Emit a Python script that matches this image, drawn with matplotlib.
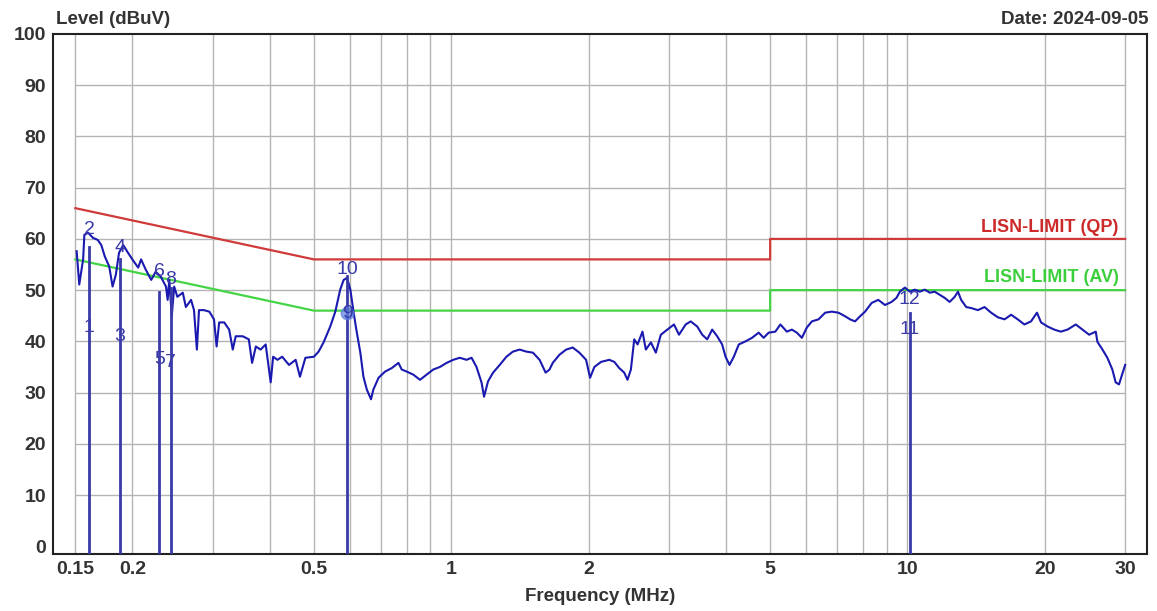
"""EMI conducted emission scan: level vs frequency with LISN limits and markers."""
import matplotlib
matplotlib.use("Agg")
import matplotlib.pyplot as plt
from matplotlib.ticker import FixedLocator, NullLocator

plt.rcParams["font.family"] = ["Liberation Sans", "DejaVu Sans"]

# ── colours ──────────────────────────────────────────────────────────────
C_TRACE = "#1a1ab0"
C_MARK = "#3a3aa8"
C_QP = "#d03a3a"
C_AV = "#45d445"
C_GRID = "#b4b4b4"
C_TEXT = "#333333"

# ── data ─────────────────────────────────────────────────────────────────
freq_mhz = [
    0.151, 0.153, 0.156, 0.157, 0.160, 0.164, 0.168, 0.171, 0.174, 0.178,
    0.181, 0.184, 0.187, 0.191, 0.195, 0.200, 0.206, 0.209, 0.214, 0.220,
    0.225, 0.231, 0.237, 0.239, 0.241, 0.244, 0.247, 0.251, 0.258, 0.262,
    0.269, 0.273, 0.277, 0.280, 0.287, 0.295, 0.302, 0.306, 0.310, 0.318,
    0.326, 0.332, 0.337, 0.349, 0.360, 0.366, 0.373, 0.382, 0.392, 0.402,
    0.407, 0.416, 0.426, 0.441, 0.456, 0.466,
    0.479, 0.500, 0.512, 0.525, 0.543, 0.557, 0.571, 0.581, 0.591, 0.601,
    0.611, 0.621, 0.632, 0.642, 0.653, 0.667, 0.675, 0.693, 0.716, 0.741,
    0.766, 0.779, 0.799, 0.826, 0.854, 0.883, 0.913, 0.944, 0.977, 1.010,
    1.044, 1.080, 1.108, 1.136, 1.165, 1.180, 1.204, 1.235, 1.277, 1.321,
    1.365, 1.412, 1.461, 1.510, 1.562, 1.610, 1.642,
    1.669, 1.727, 1.786, 1.846, 1.909, 1.975, 2.015, 2.059, 2.130, 2.220,
    2.277, 2.334, 2.394, 2.434, 2.476, 2.518, 2.561, 2.625, 2.670, 2.739,
    2.808, 2.880, 2.976, 3.078, 3.156, 3.265, 3.348, 3.461, 3.549, 3.639,
    3.732, 3.827, 3.924, 3.992, 4.073, 4.162, 4.268, 4.414, 4.563, 4.719,
    4.839, 4.962, 5.132, 5.265, 5.439,
    5.580, 5.721, 5.868, 6.017, 6.171, 6.382, 6.601, 6.824, 7.057, 7.299,
    7.484, 7.675, 7.871, 8.072, 8.344, 8.629, 8.926, 9.227, 9.461, 9.624,
    9.869, 10.12, 10.38, 10.64, 10.91, 11.19, 11.47, 11.76, 12.06, 12.37,
    12.69, 12.90, 13.11, 13.45, 13.79, 14.27, 14.75, 15.25, 15.78, 16.32,
    16.87, 17.44, 18.04,
    18.65, 19.22, 19.62, 20.28, 20.97, 21.68, 22.43, 23.38, 24.18, 25.01,
    25.86, 26.08, 26.75, 27.42, 28.12, 28.59, 29.08, 29.43, 30.0,
]
level_dbuv = [
    57.6, 51.1, 56.0, 60.8, 61.2, 60.2, 59.8, 58.8, 56.6, 54.6,
    50.7, 53.0, 57.3, 58.8, 57.5, 56.0, 54.4, 56.0, 54.0, 52.0,
    53.6, 52.6, 50.7, 48.1, 52.0, 44.9, 50.7, 48.7, 49.5, 46.7,
    48.1, 46.1, 38.4, 46.1, 46.1, 45.8, 44.3, 39.0, 43.7, 43.7,
    42.3, 38.4, 41.0, 41.0, 40.4, 35.8, 39.0, 38.4, 39.4, 32.0,
    37.0, 36.4, 37.0, 35.4, 36.4, 33.1,
    36.8, 37.0, 38.0, 39.8, 42.9, 45.8, 50.1, 52.0, 52.4, 50.1,
    45.6, 41.7, 37.8, 33.1, 30.6, 28.7, 30.6, 32.9, 34.1, 34.8,
    35.8, 34.5, 34.1, 33.5, 32.5, 33.5, 34.5, 35.0, 35.8, 36.4,
    36.8, 36.4, 36.8, 35.0, 32.0, 29.2, 32.2, 33.9, 35.4, 37.0,
    38.0, 38.4, 38.0, 37.8, 36.4, 33.9, 34.5,
    35.8, 37.4, 38.4, 38.8, 37.8, 36.4, 32.9, 35.0, 36.0, 36.4,
    36.0, 34.8, 33.9, 32.5, 34.5, 40.4, 39.4, 41.9, 38.4, 39.8,
    37.8, 41.3, 42.3, 43.3, 41.3, 43.3, 43.9, 42.9, 41.3, 40.4,
    42.3, 41.0, 39.4, 37.0, 35.4, 37.0, 39.4, 40.0, 40.7, 41.7,
    40.7, 41.7, 41.9, 43.3, 41.9,
    42.3, 41.7, 40.7, 42.7, 43.9, 44.3, 45.6, 45.8, 45.6, 44.9,
    44.3, 43.9, 44.9, 45.8, 47.5, 48.1, 47.1, 47.7, 48.5, 49.7,
    50.5, 49.7, 50.1, 49.7, 50.1, 49.5, 49.7, 49.1, 48.5, 47.7,
    48.7, 49.7, 48.1, 46.7, 46.5, 46.1, 46.7, 45.6, 44.7, 44.3,
    45.2, 44.3, 43.3,
    43.9, 45.6, 43.7, 42.9, 42.3, 41.9, 42.3, 43.3, 42.3, 41.3,
    41.9, 39.9, 38.4, 36.8, 34.5, 32.0, 31.6, 33.1, 35.4,
]

# LISN limits (EN 55032 class B style), breakpoints in MHz
qp_freq = [0.15, 0.5, 5.0, 5.0, 30.0]
qp_level = [66, 56, 56, 60, 60]
av_freq = [0.15, 0.5, 5.0, 5.0, 30.0]
av_level = [56, 46, 46, 50, 50]

# markers: odd numbers = AV readings, even numbers = QP readings
marker_freq = [0.161, 0.188, 0.229, 0.243, 0.591, 10.12]
marker_top = [58.5, 56.0, 49.7, 50.5, 52.7, 45.5]
marker_qp = [61.8, 58.3, 53.6, 52.0, 54.0, 48.1]
marker_av = [42.7, 41.0, 36.4, 35.8, 45.5, 42.3]

x_ticks = [0.15, 0.2, 0.5, 1, 2, 5, 10, 20, 30]
x_ticklabels = ["0.15", "0.2", "0.5", "1", "2", "5", "10", "20", "30"]
x_grid = [0.15, 0.2, 0.3, 0.4, 0.5, 0.6, 0.7, 0.8, 0.9,
          1, 2, 3, 4, 5, 6, 7, 8, 9, 10, 20, 30]
y_ticks = list(range(0, 101, 10))

# ── figure ───────────────────────────────────────────────────────────────
fig = plt.figure(figsize=(11.57, 6.11), dpi=100, facecolor="white")
ax = fig.add_axes([0.0458, 0.0933, 0.9456, 0.8511])

ax.set_xscale("log")
ax.set_xlim(0.134, 33.5)
ax.set_ylim(-1.5, 100)

# grid: vertical lines span the full height, horizontal ones run 0.15–30 MHz
for xg in x_grid:
    ax.axvline(xg, color=C_GRID, lw=1, zorder=0)
ax.hlines(y_ticks[1:-1], x_grid[0], x_grid[-1], color=C_GRID, lw=1, zorder=0)

# limits
ax.plot(qp_freq, qp_level, color=C_QP, lw=1.6, zorder=2)
ax.plot(av_freq, av_level, color=C_AV, lw=1.6, zorder=2)
ax.text(29.0, 62.3, "LISN-LIMIT (QP)", color="#cc2a2a", fontsize=13,
        fontweight="bold", ha="right", va="center")
ax.text(29.0, 52.4, "LISN-LIMIT (AV)", color="#3ccf3c", fontsize=13,
        fontweight="bold", ha="right", va="center")

# trace
ax.plot(freq_mhz, level_dbuv, color=C_TRACE, lw=1.5, zorder=3)

# markers
for i, (f, top, qp, av) in enumerate(zip(marker_freq, marker_top, marker_qp, marker_av)):
    ax.plot([f, f], [-1.5, top], color=C_MARK, lw=2, zorder=4)
    ax.text(f, qp, str(2 * i + 2), color=C_MARK, fontsize=14,
            ha="center", va="center", zorder=5)
    ax.text(f, av, str(2 * i + 1), color=C_MARK, fontsize=14,
            ha="center", va="center", zorder=5)
ax.plot(marker_freq[4], marker_av[4], "o", color="#5a7de0", ms=9, alpha=0.7, zorder=4)

# axes styling
ax.xaxis.set_major_locator(FixedLocator(x_ticks))
ax.xaxis.set_minor_locator(NullLocator())
ax.set_xticklabels(x_ticklabels)
ax.set_yticks(y_ticks)
ax.tick_params(axis="both", length=0, labelsize=14, labelcolor=C_TEXT, pad=5)
for lab in ax.get_xticklabels() + ax.get_yticklabels():
    lab.set_fontweight("bold")
for sp in ax.spines.values():
    sp.set_color("#222222")
    sp.set_linewidth(1.5)

ax.set_xlabel("Frequency (MHz)", fontsize=13.5, fontweight="bold", color=C_TEXT, labelpad=7)
fig.text(0.048, 0.968, "Level (dBuV)", fontsize=13.5, fontweight="bold",
         color=C_TEXT, ha="left", va="center")
fig.text(0.993, 0.968, "Date: 2024-09-05", fontsize=13.5, fontweight="bold",
         color=C_TEXT, ha="right", va="center")

fig.savefig("out.png", dpi=100, facecolor="white")
